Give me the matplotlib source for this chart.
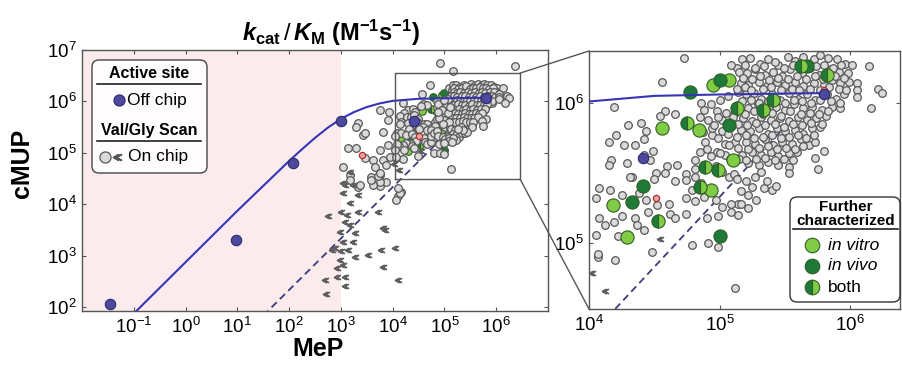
import numpy as np
import matplotlib
matplotlib.use('Agg')
import matplotlib.pyplot as plt
from matplotlib.patches import FancyBboxPatch, ConnectionPatch
from matplotlib.ticker import NullLocator

plt.rcParams['font.family'] = ['Liberation Sans', 'DejaVu Sans']
plt.rcParams['mathtext.fontset'] = 'custom'
plt.rcParams['mathtext.rm'] = 'Liberation Sans'
plt.rcParams['mathtext.it'] = 'Liberation Sans:italic'
plt.rcParams['mathtext.bf'] = 'Liberation Sans:bold'
plt.rcParams['mathtext.bfit'] = 'Liberation Sans:bold:italic'

# all values are log10(kcat/KM), (MeP, cMUP)

# Val/Gly scan, on chip (circles)
onchip_pts = [
    (4.73, 6.32), (4.56, 6.15), (4.19, 5.97), (4.58, 5.94), (4.66, 5.92), (4.30, 5.84), (4.40, 5.86), (4.44, 5.80),
    (4.21, 5.77), (4.15, 5.72), (4.27, 5.70), (4.35, 5.70), (4.42, 5.74), (4.49, 5.66), (4.42, 5.63), (4.17, 5.59),
    (4.15, 5.56), (4.29, 5.57), (4.47, 5.59), (4.60, 5.55), (4.67, 5.56), (4.51, 5.50), (4.58, 5.50), (4.74, 5.49),
    (4.33, 5.47), (4.81, 5.59), (4.85, 5.65), (4.89, 5.72), (4.94, 5.77), (4.93, 5.99), (4.98, 5.94), (5.02, 5.88),
    (5.04, 5.71), (5.13, 6.25), (5.14, 6.08), (5.12, 5.72), (5.04, 5.63), (4.98, 5.65), (5.07, 5.47), (4.81, 5.47),
    (4.54, 5.91), (5.09, 6.27), (4.86, 6.00), (4.85, 5.90), (4.91, 5.88), (4.99, 5.90), (5.05, 5.93), (4.94, 5.82),
    (5.02, 5.80), (4.99, 5.75), (5.07, 5.70), (4.93, 5.62), (5.00, 5.64), (4.81, 5.53), (5.02, 5.51), (5.11, 5.49),
    # dense cloud
    (5.17, 6.31), (5.23, 6.32), (5.31, 6.28), (5.37, 6.31), (5.45, 6.27), (5.52, 6.33), (5.58, 6.30), (5.64, 6.33),
    (5.72, 6.31), (5.77, 6.34), (5.83, 6.32), (5.90, 6.31), (5.96, 6.28), (6.01, 6.27),
    (5.15, 6.22), (5.21, 6.21), (5.27, 6.24), (5.35, 6.20), (5.41, 6.22), (5.48, 6.19), (5.54, 6.24), (5.63, 6.21),
    (5.69, 6.25), (5.76, 6.20), (5.85, 6.24), (5.91, 6.22), (5.98, 6.21),
    (5.16, 6.14), (5.22, 6.13), (5.30, 6.15), (5.36, 6.12), (5.44, 6.15), (5.50, 6.13), (5.58, 6.15), (5.64, 6.12),
    (5.72, 6.14), (5.80, 6.13), (5.86, 6.16), (5.92, 6.14), (5.99, 6.15),
    (5.20, 6.06), (5.26, 6.07), (5.32, 6.03), (5.40, 6.06), (5.46, 6.02), (5.53, 6.07), (5.60, 6.03), (5.67, 6.06),
    (5.73, 6.02), (5.82, 6.06), (5.89, 6.03), (5.95, 6.06),
    (5.15, 5.97), (5.22, 5.96), (5.29, 5.99), (5.36, 5.95), (5.43, 5.97), (5.50, 5.95), (5.57, 5.99), (5.64, 5.96),
    (5.71, 5.97), (5.78, 5.95), (5.86, 5.97), (5.92, 5.96),
    (5.18, 5.89), (5.25, 5.87), (5.32, 5.90), (5.39, 5.88), (5.46, 5.89), (5.53, 5.87), (5.60, 5.90), (5.67, 5.88),
    (5.74, 5.89), (5.81, 5.91),
    (5.16, 5.81), (5.23, 5.80), (5.30, 5.82), (5.37, 5.78), (5.44, 5.82), (5.50, 5.80), (5.58, 5.81), (5.64, 5.78),
    (5.71, 5.82), (5.77, 5.83),
    (5.20, 5.72), (5.27, 5.71), (5.35, 5.74), (5.41, 5.70), (5.48, 5.72), (5.55, 5.71), (5.62, 5.74), (5.68, 5.70),
    (5.73, 5.72),
    (5.17, 5.63), (5.25, 5.65), (5.32, 5.63), (5.39, 5.65), (5.45, 5.62), (5.53, 5.64), (5.59, 5.65),
    (5.22, 5.57), (5.30, 5.56), (5.37, 5.58), (5.45, 5.56), (5.53, 5.54),
    (5.19, 6.27), (5.27, 6.25), (5.34, 6.26), (5.42, 6.29), (5.49, 6.25), (5.56, 6.27), (5.61, 6.26), (5.68, 6.28),
    (5.74, 6.26), (5.80, 6.27), (5.87, 6.25), (5.93, 6.27),
    (5.18, 6.18), (5.25, 6.17), (5.31, 6.19), (5.38, 6.16), (5.45, 6.18), (5.52, 6.17), (5.59, 6.19), (5.66, 6.17),
    (5.73, 6.19), (5.79, 6.17), (5.88, 6.19), (5.95, 6.18),
    (5.13, 6.10), (5.19, 6.11), (5.24, 6.09), (5.33, 6.10), (5.39, 6.11), (5.47, 6.09), (5.55, 6.10), (5.61, 6.09),
    (5.69, 6.10), (5.77, 6.09), (5.84, 6.11), (5.91, 6.10), (5.97, 6.09),
    (5.17, 6.01), (5.24, 6.02), (5.30, 6.00), (5.37, 6.01), (5.43, 6.03), (5.50, 6.00), (5.57, 6.02), (5.63, 6.01),
    (5.70, 6.00), (5.77, 6.02), (5.85, 6.01), (5.92, 6.00),
    (5.12, 5.93), (5.19, 5.92), (5.26, 5.94), (5.33, 5.92), (5.40, 5.93), (5.47, 5.91), (5.54, 5.94), (5.62, 5.92),
    (5.69, 5.93), (5.76, 5.92), (5.83, 5.94),
    (5.14, 5.85), (5.21, 5.84), (5.28, 5.86), (5.35, 5.84), (5.42, 5.85), (5.49, 5.83), (5.56, 5.85), (5.63, 5.84),
    (5.70, 5.86), (5.78, 5.85),
    (5.13, 5.76), (5.20, 5.77), (5.26, 5.75), (5.33, 5.76), (5.40, 5.77), (5.47, 5.75), (5.53, 5.76), (5.60, 5.77),
    (5.66, 5.75), (5.72, 5.77),
    (5.14, 5.68), (5.22, 5.67), (5.30, 5.68), (5.37, 5.69), (5.44, 5.67), (5.51, 5.68), (5.58, 5.67), (5.64, 5.69),
    (5.15, 5.60), (5.20, 5.59), (5.28, 5.60), (5.35, 5.61), (5.42, 5.59), (5.49, 5.60), (5.56, 5.59),
    (4.88, 5.95), (4.96, 5.84), (5.06, 5.78), (4.90, 5.67), (5.08, 5.60), (4.97, 5.55), (4.87, 5.79), (5.10, 5.90),
    (5.06, 6.05), (5.00, 6.02),
    (6.14, 6.26), (6.05, 6.14), (6.05, 6.09), (6.05, 6.04), (6.21, 6.10), (6.24, 6.07), (6.16, 5.96), (5.80, 5.66),
    (5.73, 5.61), (5.75, 5.53), (5.53, 5.50), (5.32, 5.51),
    (5.13, 5.46), (5.20, 5.44), (5.25, 5.40), (5.16, 5.37), (5.22, 5.34), (5.28, 5.31), (5.14, 5.28), (5.22, 5.25),
    (5.34, 5.39), (5.40, 5.38), (5.43, 5.41), (5.36, 5.44), (5.27, 5.47),
    # lower-left of the zoom window
    (4.31, 5.47), (4.50, 5.46), (4.66, 5.44), (4.74, 5.45), (4.08, 5.39), (4.16, 5.38), (4.05, 5.32), (4.25, 5.34),
    (4.38, 5.36), (4.44, 5.31), (4.52, 5.27), (4.61, 5.28), (4.45, 5.22), (4.62, 5.21), (4.35, 5.18), (4.25, 5.19),
    (4.19, 5.15), (4.12, 5.13), (4.08, 5.18), (4.05, 5.06), (4.22, 5.05), (4.37, 5.13), (4.42, 5.09), (4.66, 5.18),
    (4.74, 5.21), (4.81, 5.30), (4.74, 5.32), (4.79, 5.38), (4.86, 5.43), (4.88, 5.33), (4.97, 5.31), (5.02, 5.26),
    (5.09, 5.28), (5.16, 5.28), (5.09, 5.22), (5.14, 5.20), (4.90, 5.18), (4.99, 5.19), (4.79, 4.99), (4.91, 5.00),
    (4.99, 4.97), (4.48, 4.94), (4.07, 4.90), (4.20, 4.88), (5.12, 4.68),
    # outside the zoom window
    (4.91, 6.74), (5.17, 6.60), (6.36, 6.69), (3.75, 5.83), (3.93, 5.80), (3.91, 5.64),
    (3.33, 5.57), (3.43, 5.35), (3.14, 5.09), (3.30, 5.09), (3.75, 5.05), (3.46, 4.89), (3.62, 4.86), (3.82, 4.86),
    (3.66, 4.73), (3.75, 4.57), (3.59, 4.53), (3.05, 4.73), (3.17, 4.57), (3.33, 4.34), (3.75, 4.35), (3.88, 4.44),
    (3.95, 4.92), (3.91, 5.15), (3.82, 5.41), (4.11, 4.15), (4.17, 4.24), (3.75, 4.44), (3.62, 4.37), (3.59, 4.47),
    (3.72, 4.54), (4.07, 4.08), (4.14, 4.21), (4.11, 4.31), (3.30, 5.51), (3.46, 5.38), (3.17, 4.47), (3.37, 4.37),
    (3.75, 4.60), (3.88, 4.76), (4.07, 4.92),
]

# on chip, below detection (chevrons)
chevron_pts = [
    (3.17, 4.63), (3.04, 4.41), (3.24, 4.37), (3.33, 4.18), (3.04, 4.21), (3.17, 4.02), (3.01, 3.85), (3.11, 3.79),
    (2.75, 3.76), (3.33, 3.85), (3.72, 3.85), (3.08, 3.66), (3.17, 3.59), (2.98, 3.46), (3.27, 3.43), (3.82, 3.53),
    (3.85, 3.50), (3.04, 3.27), (3.24, 3.27), (2.88, 3.14), (3.01, 3.08), (3.14, 3.11), (3.53, 3.01), (3.78, 3.11),
    (4.04, 3.14), (2.98, 2.91), (3.04, 2.82), (2.92, 2.75), (3.82, 2.78), (4.11, 2.53), (2.69, 2.53), (2.92, 2.59),
    (3.08, 2.59), (3.08, 2.40), (2.72, 2.26), (3.27, 2.98), (2.82, 3.11), (3.08, 4.37),
    (4.54, 5.03), (4.12, 4.66), (4.02, 4.79),
]

other_pts = [(4.51, 5.32), (5.80, 6.09), (3.40, 4.96)]

# active site mutants, off chip
offchip_pts = [(-1.46, 2.06), (0.97, 3.30), (2.08, 4.81), (3.01, 5.61), (4.41, 5.61), (5.80, 6.06)]

# further characterized
invitro_pts = [(4.95, 6.13), (5.07, 6.16), (4.56, 5.82), (4.84, 5.81), (5.10, 5.59), (4.93, 5.38), (4.29, 5.04),
               (4.18, 5.27)]
invivo_pts = [(5.00, 6.16), (4.77, 6.08), (4.41, 5.41), (4.33, 5.29), (5.00, 5.05), (5.67, 6.26), (5.07, 5.84)]
both_pts = [(4.75, 5.86), (5.13, 5.96), (5.33, 5.95), (5.41, 6.02), (5.62, 6.26), (5.82, 6.20), (4.89, 5.54),
            (4.99, 5.52), (4.85, 5.40), (4.53, 5.16)]

# saturation fit and diagonal
fit_mep_log = [-1.0, 0.0, 1.0, 2.0, 2.25, 2.5, 2.75, 3.0, 3.25, 3.5, 3.75, 4.0, 4.25, 4.5, 5.0, 5.8]
fit_cmup_log = [1.87, 2.87, 3.87, 4.84, 5.07, 5.29, 5.49, 5.66, 5.79, 5.89, 5.96, 6.01, 6.03, 6.05, 6.06, 6.07]
diag_mep_log = [1.5, 5.5]
diag_cmup_log = [1.83, 5.83]

GREY_FC, GREY_EC = '#dadada', '#585858'
PURPLE_FC, PURPLE_EC = '#4d4a9e', '#2b2970'
LIGHT_G, DARK_G, G_EDGE = '#80cc45', '#1f7a3a', '#2f5e22'
LINE_BLUE = '#3535b5'


def xy(pts):
    a = np.array(pts)
    return 10.0 ** a[:, 0], 10.0 ** a[:, 1]


def draw_panel(ax, green_ms, green_z):
    ax.set_xscale('log')
    ax.set_yscale('log')
    ax.plot(10.0 ** np.array(diag_mep_log), 10.0 ** np.array(diag_cmup_log), ls=(0, (4, 2.5)),
            color='#3c3c7a', lw=1.3, zorder=1)
    x, y = xy(onchip_pts)
    ax.plot(x, y, 'o', ms=5.5, mfc=GREY_FC, mec=GREY_EC, mew=0.9, zorder=2)
    x, y = xy(chevron_pts)
    ax.plot(x, y, ls='none', marker=r'$\ll$', ms=4.5, color='#606060', zorder=2)
    x, y = xy(other_pts)
    ax.plot(x, y, 'o', ms=4.5, mfc='#e6a3a3', mec='#b03030', mew=0.9, zorder=3)
    x, y = xy(invitro_pts)
    ax.plot(x, y, 'o', ms=green_ms, mfc=LIGHT_G, mec=G_EDGE, mew=0.8, zorder=green_z)
    x, y = xy(invivo_pts)
    ax.plot(x, y, 'o', ms=green_ms, mfc=DARK_G, mec=G_EDGE, mew=0.8, zorder=green_z)
    x, y = xy(both_pts)
    ax.plot(x, y, 'o', ms=green_ms, mfc=DARK_G, mfcalt=LIGHT_G, fillstyle='left', mec=G_EDGE, mew=0.8,
            zorder=green_z)
    ax.plot(10.0 ** np.array(fit_mep_log), 10.0 ** np.array(fit_cmup_log), color=LINE_BLUE, lw=1.5, zorder=5)
    x, y = xy(offchip_pts)
    ax.plot(x, y, 'o', ms=7.5, mfc=PURPLE_FC, mec=PURPLE_EC, mew=0.8, zorder=6)
    ax.xaxis.set_minor_locator(NullLocator())
    ax.yaxis.set_minor_locator(NullLocator())
    ax.tick_params(direction='in', length=3, width=0.8, top=True, right=True, labelsize=13.5, pad=4,
                   color='#555555')
    for s in ax.spines.values():
        s.set_color('#555555')
        s.set_linewidth(1.0)


W, H = 902, 368
fig = plt.figure(figsize=(W / 100, H / 100), dpi=100)

ax1 = fig.add_axes([82 / W, 57 / H, 466 / W, 261 / H])
ax1.axvspan(1e-2, 1e3, color='#fcebed', lw=0, zorder=0)
draw_panel(ax1, 5.5, 1.5)
ax1.set_xlim(1e-2, 1e7)
ax1.set_ylim(10 ** 1.92, 1e7)
ax1.set_xticks([10.0 ** k for k in range(-1, 7)])
ax1.set_yticks([10.0 ** k for k in range(2, 8)])

ax2 = fig.add_axes([589 / W, 59 / H, 311 / W, 258 / H])
draw_panel(ax2, 9.5, 4)
ax2.set_xlim(1e4, 10 ** 6.38)
ax2.set_ylim(10 ** 4.53, 10 ** 6.37)
ax2.set_xticks([1e4, 1e5, 1e6])
ax2.set_yticks([1e5, 1e6])

# zoom window and connectors
bx0, bx1, by0, by1 = 10 ** 4.04, 10 ** 6.46, 10 ** 4.49, 10 ** 6.55
ax1.plot([bx0, bx1, bx1, bx0, bx0], [by0, by0, by1, by1, by0], color='#555555', lw=1.0, zorder=7)
for (yb, ya) in [(by1, 1.0), (by0, 0.0)]:
    con = ConnectionPatch(xyA=(bx1, yb), coordsA=ax1.transData, xyB=(0.0, ya), coordsB=ax2.transAxes,
                          color='#555555', lw=1.0)
    fig.add_artist(con)

# texts in pixel space
ov = fig.add_axes([0, 0, 1, 1], zorder=10)
ov.set_xlim(0, W)
ov.set_ylim(H, 0)
ov.axis('off')
ov.patch.set_visible(False)

ov.text(331, 33, r'$\mathbfit{k}_{\mathbf{cat}}\,/\,\mathbfit{K}_{\mathbf{M}}$ (M$^{\mathbf{-1}}$s$^{\mathbf{-1}}$)',
        ha='center', va='center', fontsize=17, fontweight='bold')
ov.text(22, 163, 'cMUP', rotation=90, ha='center', va='center', fontsize=18, fontweight='bold')
ov.text(318, 349, 'MeP', ha='center', va='center', fontsize=18, fontweight='bold')

# left legend
ov.add_patch(FancyBboxPatch((92, 60), 115, 113, boxstyle='round,pad=0,rounding_size=7',
                            fc='white', ec='#333333', lw=1.0, alpha=0.9))
ov.text(149, 74, 'Active site', ha='center', va='center', fontsize=11.5, fontweight='bold')
ov.plot([97, 201], [84, 84], color='#222222', lw=1.2)
ov.plot([119], [100], 'o', ms=8, mfc=PURPLE_FC, mec=PURPLE_EC, mew=0.8)
ov.text(127, 100, 'Off chip', ha='left', va='center', fontsize=12.5)
ov.text(149, 130, 'Val/Gly Scan', ha='center', va='center', fontsize=11.5, fontweight='bold')
ov.plot([97, 201], [141, 141], color='#222222', lw=1.2)
ov.plot([105], [157], 'o', ms=8, mfc=GREY_FC, mec=GREY_EC, mew=0.9)
ov.plot([117], [157], marker=r'$\ll$', ms=6, color='#555555')
ov.text(128, 157, 'On chip', ha='left', va='center', fontsize=12.5)

# right legend
ov.add_patch(FancyBboxPatch((790, 197), 110, 105, boxstyle='round,pad=0,rounding_size=7',
                            fc='white', ec='#333333', lw=1.0))
ov.text(846, 207, 'Further', ha='center', va='center', fontsize=11, fontweight='bold')
ov.text(846, 221, 'characterized', ha='center', va='center', fontsize=11, fontweight='bold')
ov.plot([793, 898], [229, 229], color='#222222', lw=1.2)
ov.plot([812], [245], 'o', ms=10.5, mfc=LIGHT_G, mec=G_EDGE, mew=0.8)
ov.plot([812], [266], 'o', ms=10.5, mfc=DARK_G, mec=G_EDGE, mew=0.8)
ov.plot([812], [287], 'o', ms=10.5, mfc=DARK_G, mfcalt=LIGHT_G, fillstyle='left', mec=G_EDGE, mew=0.8)
ov.text(828, 245, 'in vitro', ha='left', va='center', fontsize=12.5, style='italic')
ov.text(828, 266, 'in vivo', ha='left', va='center', fontsize=12.5, style='italic')
ov.text(828, 287, 'both', ha='left', va='center', fontsize=12.5)

fig.savefig('out.png', dpi=100)
